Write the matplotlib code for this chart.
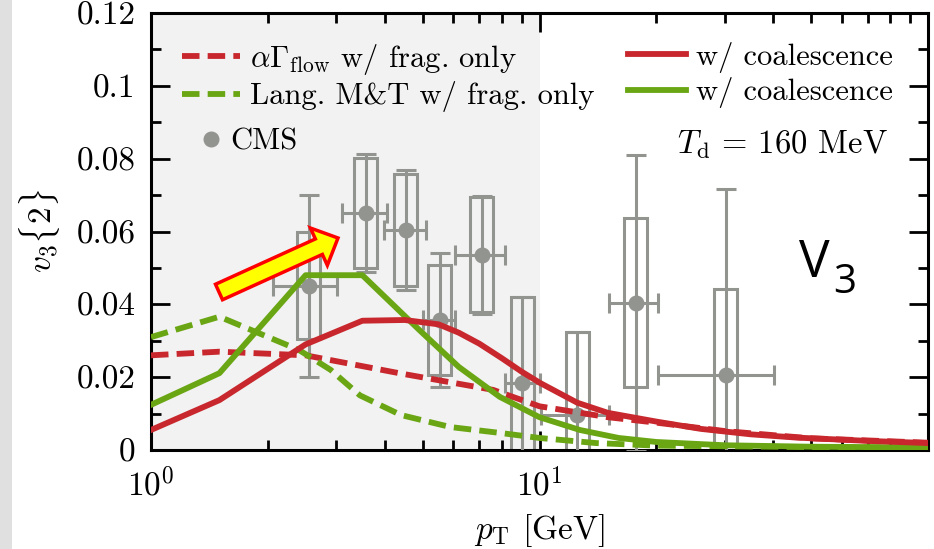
import numpy as np
import matplotlib
matplotlib.use("Agg")
import matplotlib.pyplot as plt
from matplotlib.patches import Rectangle, FancyArrow
from matplotlib.lines import Line2D
from matplotlib.ticker import FixedLocator, FixedFormatter, NullFormatter

plt.rcParams.update({
    "font.family": "cmr10",
    "mathtext.fontset": "cm",
    "axes.formatter.use_mathtext": True,
    "axes.unicode_minus": False,
})

# ---- model curves ----
# alpha*Gamma_flow, fragmentation only
ag_frag_pt = [1.0, 1.5, 2.5, 4.4, 7.6, 10.0, 15.0, 20.0, 30.0, 50.0, 100.0]
ag_frag_v3 = [0.026, 0.027, 0.026, 0.021, 0.0165, 0.012, 0.009, 0.0075, 0.0052, 0.0032, 0.002]
# alpha*Gamma_flow, with coalescence
ag_coal_pt = [1.0, 1.5, 2.5, 3.5, 4.5, 5.5, 6.2, 7.0, 8.0, 9.0, 10.0, 12.5, 15.0, 20.0, 26.0, 35.0, 46.0, 70.0, 100.0]
ag_coal_v3 = [0.0055, 0.0137, 0.029, 0.0355, 0.0357, 0.0345, 0.0322, 0.0292, 0.0252, 0.0215, 0.0185,
              0.013, 0.0102, 0.0078, 0.0058, 0.0043, 0.0034, 0.0025, 0.0019]
# Langevin M&T, fragmentation only
lg_frag_pt = [1.0, 1.5, 2.4, 2.9, 3.45, 4.4, 5.9, 7.9, 10.0, 14.0, 20.0, 50.0, 100.0]
lg_frag_v3 = [0.031, 0.0366, 0.0275, 0.022, 0.015, 0.0096, 0.0063, 0.0047, 0.0033, 0.0019, 0.0012, 0.0008, 0.0006]
# Langevin M&T, with coalescence
lg_coal_pt = [1.0, 1.5, 2.5, 3.5, 4.9, 6.2, 7.9, 10.0, 12.7, 16.0, 20.0, 30.0, 50.0, 100.0]
lg_coal_v3 = [0.0124, 0.0211, 0.048, 0.048, 0.033, 0.0228, 0.0146, 0.009, 0.0055, 0.0033, 0.0022, 0.0013, 0.0009, 0.0007]

# ---- CMS data ----
cms_pt = [2.55, 3.57, 4.52, 5.53, 7.10, 9.04, 12.5, 17.7, 30.2]
cms_pt_lo = [2.06, 3.10, 3.97, 5.00, 6.05, 8.13, 10.1, 15.1, 20.2]
cms_pt_hi = [3.02, 4.06, 5.10, 6.05, 8.13, 10.0, 15.1, 20.2, 40.2]
cms_v3 = [0.0451, 0.0651, 0.0604, 0.0357, 0.0536, 0.0184, 0.0096, 0.0404, 0.0206]
cms_stat = [0.025, 0.0162, 0.0165, 0.0185, 0.0162, 0.0236, 0.0228, 0.0406, 0.0511]
cms_sys = [0.0147, 0.015, 0.0155, 0.015, 0.0158, 0.0236, 0.0228, 0.0232, 0.0236]

yticks = [0, 0.02, 0.04, 0.06, 0.08, 0.1, 0.12]
ytick_labels = ["0", "0.02", "0.04", "0.06", "0.08", "0.1", "0.12"]
xticks = [1, 10]
xtick_labels = [r"$10^0$", r"$10^1$"]

RED = "#c8282d"
GREEN = "#6aa614"
GRAY = "#929490"

W, H = 934, 549
fig = plt.figure(figsize=(W / 100, H / 100), dpi=100)
fig.patch.set_facecolor("white")
fig.add_artist(Rectangle((0, 0), 12 / W, 1, transform=fig.transFigure,
                         facecolor="#e0e0e0", edgecolor="none", zorder=0))

ax = fig.add_axes([151 / W, 99 / H, 777 / W, 437 / H])
ax.set_xscale("log")
ax.set_xlim(1, 100)
ax.set_ylim(0, 0.12)
ax.axvspan(1, 10, color="#f2f2f2", lw=0, zorder=0)

# systematic boxes
half = 10 ** 0.0296
for pt, v, s in zip(cms_pt, cms_v3, cms_sys):
    ax.add_patch(Rectangle((pt / half, v - s), pt * half - pt / half, 2 * s,
                           facecolor="none", edgecolor=GRAY, lw=2.2, zorder=2))

xerr = [np.array(cms_pt) - np.array(cms_pt_lo), np.array(cms_pt_hi) - np.array(cms_pt)]
ax.errorbar(cms_pt, cms_v3, yerr=cms_stat, xerr=xerr, fmt="o", color=GRAY,
            ms=10.5, elinewidth=2.2, capsize=7.5, capthick=2.2, zorder=3)

lw_solid = 4.2
dash = (3, 1.4)
l_agf, = ax.plot(ag_frag_pt, ag_frag_v3, color=RED, lw=lw_solid, dashes=dash, zorder=4)
l_lgf, = ax.plot(lg_frag_pt, lg_frag_v3, color=GREEN, lw=lw_solid, dashes=dash, zorder=4)
l_lgc, = ax.plot(lg_coal_pt, lg_coal_v3, color=GREEN, lw=lw_solid, zorder=5)
l_agc, = ax.plot(ag_coal_pt, ag_coal_v3, color=RED, lw=lw_solid, zorder=5)

# axes styling
ax.xaxis.set_major_locator(FixedLocator(xticks))
ax.xaxis.set_major_formatter(FixedFormatter(xtick_labels))
minor_x = [m * 10 ** d for d in range(2) for m in range(2, 10)]
ax.xaxis.set_minor_locator(FixedLocator(minor_x))
ax.xaxis.set_minor_formatter(NullFormatter())
ax.yaxis.set_major_locator(FixedLocator(yticks))
ax.yaxis.set_major_formatter(FixedFormatter(ytick_labels))
ax.yaxis.set_minor_locator(FixedLocator([0.01, 0.03, 0.05, 0.07, 0.09, 0.11]))
ax.tick_params(which="both", direction="in", top=True, right=True, labelsize=24, width=2.0)
ax.tick_params(which="major", length=14)
ax.tick_params(which="minor", length=7)
ax.tick_params(axis="x", pad=12)
ax.tick_params(axis="y", pad=11)
for sp in ax.spines.values():
    sp.set_linewidth(2.2)

ax.set_ylabel(r"$v_3\{2\}$", fontsize=24)
ax.yaxis.set_label_coords(-0.114, 0.5)
ax.set_xlabel(r"$p_{\rm T}$ [GeV]", fontsize=24, va="top")
ax.xaxis.set_label_coords(0.5, -0.142)

legkw = dict(frameon=False, fontsize=22, borderpad=0, borderaxespad=0,
             handlelength=1.9, handletextpad=0.33, labelspacing=0.15, loc="upper left")
leg1 = ax.legend([l_agf, l_lgf],
                 [r"$\alpha\Gamma_{\rm flow}$ w/ frag. only", "Lang. M&T w/ frag. only"],
                 bbox_to_anchor=(0.040, 0.934), **legkw)
ax.add_artist(leg1)
leg2 = ax.legend([l_agc, l_lgc], ["w/ coalescence", "w/ coalescence"],
                 bbox_to_anchor=(0.614, 0.934), **legkw)
ax.add_artist(leg2)
cms_handle = Line2D([], [], marker="o", ls="none", color=GRAY, ms=10.5)
legkw3 = dict(legkw)
legkw3.update(handlelength=1.0, handletextpad=0.11)
ax.legend([cms_handle], ["CMS"], bbox_to_anchor=(0.058, 0.737), **legkw3)

ax.text(0.948, 0.698, r"$T_{\rm d}$ = 160 MeV", transform=ax.transAxes,
        ha="right", va="center", fontsize=23.5)

# highlight arrow
arrow = FancyArrow(2.19, (H - 292) / 100, 1.19, 0.54, width=0.17, head_width=0.41,
                   head_length=0.21, length_includes_head=True,
                   facecolor="#ffff00", edgecolor="#ff0000", lw=2.5,
                   transform=fig.dpi_scale_trans, zorder=10)
fig.add_artist(arrow)

fig.text(7.99, (H - 277) / 100, "V", fontsize=37, family="Open Sans",
         ha="left", va="baseline", transform=fig.dpi_scale_trans)
fig.text(8.33, (H - 293) / 100, "3", fontsize=29, family="Open Sans",
         ha="left", va="baseline", transform=fig.dpi_scale_trans)

fig.savefig("out.png", dpi=100)
